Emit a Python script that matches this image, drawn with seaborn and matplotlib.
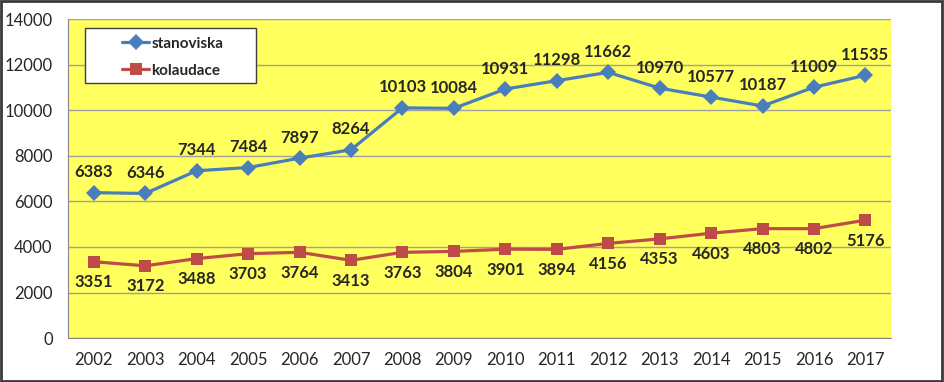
import seaborn as sns
import matplotlib.pyplot as plt
import pandas as pd
from matplotlib.patches import Rectangle

years = [2002, 2003, 2004, 2005, 2006, 2007, 2008, 2009,
         2010, 2011, 2012, 2013, 2014, 2015, 2016, 2017]
stanoviska = [6383, 6346, 7344, 7484, 7897, 8264, 10103, 10084,
              10931, 11298, 11662, 10970, 10577, 10187, 11009, 11535]
kolaudace = [3351, 3172, 3488, 3703, 3764, 3413, 3763, 3804,
             3901, 3894, 4156, 4353, 4603, 4803, 4802, 5176]
y_ticks = [0, 2000, 4000, 6000, 8000, 10000, 12000, 14000]

sns.set_style('white')
plt.rcParams['font.family'] = ['Lato', 'DejaVu Sans']

df = pd.DataFrame({'pos': range(len(years)), 'stanoviska': stanoviska, 'kolaudace': kolaudace})
long = df.melt(id_vars='pos', var_name='serie', value_name='val')

fig = plt.figure(figsize=(9.45, 3.82), dpi=100)
ax = fig.add_axes([0.072, 0.115, 0.871, 0.835])
ax.set_facecolor('#FFFF5E')

blue = '#4A7EBB'
red = '#BE4B48'
sns.lineplot(data=long, x='pos', y='val', hue='serie', style='serie',
             palette={'stanoviska': blue, 'kolaudace': red},
             markers={'stanoviska': 'D', 'kolaudace': 's'},
             dashes=False, linewidth=2.3, markersize=8, markeredgewidth=0,
             ax=ax, zorder=3)

for i, v in enumerate(stanoviska):
    ax.annotate(str(v), (i, v), xytext=(0, 9), textcoords='offset points',
                ha='center', va='bottom', fontsize=12, fontweight='bold')
for i, v in enumerate(kolaudace):
    ax.annotate(str(v), (i, v), xytext=(0, -9), textcoords='offset points',
                ha='center', va='top', fontsize=12, fontweight='bold')

ax.set_xlim(-0.5, len(years) - 0.5)
ax.set_ylim(0, 14000)
ax.set_yticks(y_ticks)
ax.set_yticklabels([str(t) for t in y_ticks], fontsize=12)
ax.set_xticks(range(len(years)))
ax.set_xticklabels([str(y) for y in years], fontsize=12)
ax.set_xticks([i - 0.5 for i in range(len(years) + 1)], minor=True)
ax.tick_params(axis='x', which='major', length=0, pad=10)
ax.tick_params(axis='x', which='minor', length=5, color='#868686', direction='out')
ax.tick_params(axis='y', length=5, color='#868686', direction='out', pad=6)
ax.yaxis.grid(True, color='#A0A0A0', linewidth=1)
ax.set_axisbelow(True)
ax.set_xlabel('')
ax.set_ylabel('')
for s in ['top', 'right']:
    ax.spines[s].set_visible(False)
for s in ['left', 'bottom']:
    ax.spines[s].set_color('#868686')

# legend box drawn separately, Excel-like wide padding
ax.add_patch(Rectangle((0.021, 0.799), 0.207, 0.173, transform=ax.transAxes,
                       facecolor='white', edgecolor='#404040', linewidth=1.0, zorder=5))
h, l = ax.get_legend_handles_labels()
leg = ax.legend(h, l, loc='upper left', bbox_to_anchor=(0.066, 0.945),
                prop={'weight': 'bold', 'size': 11}, frameon=False,
                handlelength=1.75, handletextpad=0.15,
                borderpad=0, labelspacing=0.85, borderaxespad=0)
leg.set_zorder(6)

fig.patches.append(Rectangle((0.001, 0.003), 0.996, 0.994, transform=fig.transFigure,
                             fill=False, edgecolor='#3a3a3a', linewidth=2))

fig.savefig('out.png', dpi=100)
